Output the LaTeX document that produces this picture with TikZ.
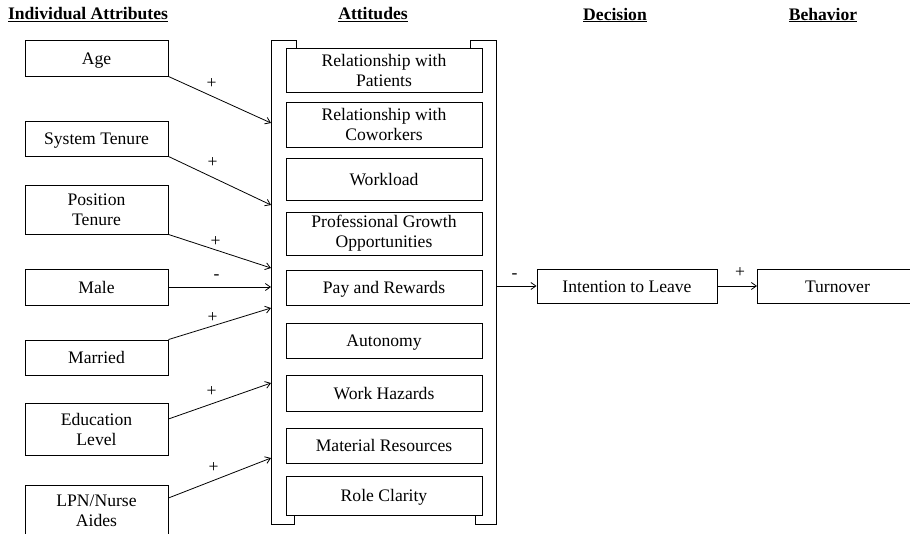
\documentclass[tikz,border=0pt]{standalone}
\usepackage{fontspec}
\setmainfont{Liberation Serif}
\usepackage{tikz}
\usetikzlibrary{arrows.meta, positioning, calc}
\newcommand{\modelfont}{\fontsize{17.6}{20}\selectfont}
\tikzset{
  attrbox/.style={
    draw, line width=0.9pt, align=center,
    font=\modelfont, fill=white, minimum width=143pt, inner sep=2pt
  },
  attbox/.style={
    draw, line width=0.9pt, align=center,
    font=\modelfont, fill=white, minimum width=196pt, inner sep=2pt
  },
  outbox/.style={
    draw, line width=0.9pt, align=center,
    font=\modelfont, fill=white, minimum height=34pt, inner sep=2pt
  },
  oneline/.style={text height=12pt, text depth=0pt},
  headlabel/.style={
    font=\modelfont\bfseries, inner sep=0pt
  },
  signlabel/.style={
    font=\modelfont, inner sep=0pt, text height=0.55em, text depth=0pt
  },
  framestyle/.style={line width=0.9pt},
  linkarrow/.style={
    -{Straight Barb[length=5pt,width=7pt]}, line width=0.8pt
  },
}

\begin{document}
\begin{tikzpicture}[x=1pt, y=-1pt]
  \useasboundingbox (0,0) rectangle (910,533);

  % Column headings
  \node[headlabel] (hAttr) at (88,15)  {\underline{Individual Attributes}};
  \node[headlabel] (hAtt)  at (373,15) {\underline{Attitudes}};
  \node[headlabel] (hDec)  at (615,15) {\underline{Decision}};
  \node[headlabel] (hBeh)  at (823,15) {\underline{Behavior}};

  % Individual attributes
  \node[attrbox, oneline, minimum height=36pt] (age)     at (96.5,58)    {Age};
  \node[attrbox, oneline, minimum height=35pt] (systen)  at (96.5,138.5) {System Tenure};
  \node[attrbox, minimum height=49pt] (posten)  at (96.5,209.5) {Position\\Tenure};
  \node[attrbox, oneline, minimum height=36pt] (male)    at (96.5,287)   {Male};
  \node[attrbox, oneline, minimum height=35pt] (married) at (96.5,357.5) {Married};
  \node[attrbox, minimum height=52pt] (edu)     at (96.5,429)   {Education\\Level};
  \node[attrbox, minimum height=52pt] (lpn)     at (96.5,511)   {LPN/Nurse\\Aides};

  % Attitudes frame
  \coordinate (fTL) at (271,40);
  \coordinate (fBR) at (496,524);
  \draw[framestyle] (fTL) -- (296,40) -- (296,48) -- (470,48) -- (470,40)
    -- (496,40) -- (fBR) -- (475,524) -- (475,515) -- (294,515)
    -- (294,524) -- (271,524) -- cycle;

  % Attitudes
  \node[attbox, minimum height=44pt] (patients)  at (384,70)    {Relationship with\\Patients};
  \node[attbox, minimum height=45pt] (coworkers) at (384,124.5) {Relationship with\\Coworkers};
  \node[attbox, oneline, minimum height=42pt] (workload)  at (384,179)   {Workload};
  \node[attbox, minimum height=43pt] (growth)    at (384,233.5) {Professional Growth\\Opportunities};
  \node[attbox, oneline, minimum height=35pt] (pay)       at (384,287.5) {Pay and Rewards};
  \node[attbox, oneline, minimum height=35pt] (autonomy)  at (384,340.5) {Autonomy};
  \node[attbox, oneline, minimum height=36pt] (hazards)   at (384,393)   {Work Hazards};
  \node[attbox, oneline, minimum height=35pt] (material)  at (384,445.5) {Material Resources};
  \node[attbox, oneline, minimum height=39pt] (clarity)   at (384,495.5) {Role Clarity};

  % Decision and behavior
  \node[outbox, oneline, minimum width=180pt] (intention) at (627,286) {Intention to Leave};
  \node[outbox, oneline, minimum width=160pt, anchor=west] (turnover) at (757,286) {Turnover};

  % Arrow ends on the frame
  \coordinate (inAge)     at (271,123);
  \coordinate (inSysten)  at (271,205);
  \coordinate (inPosten)  at (271,268);
  \coordinate (inMale)    at (271,287);
  \coordinate (inMarried) at (271,308);
  \coordinate (inEdu)     at (271,383);
  \coordinate (inLpn)     at (271,458);
  \coordinate (outAtt)    at (496,286);

  % Arrows
  \draw[linkarrow] (age.south east) -- (inAge)
    node[signlabel, pos=0.42, above=7pt] (sAge) {+};
  \draw[linkarrow] (systen.south east) -- (inSysten)
    node[signlabel, pos=0.43, above=9.5pt] (sSysten) {+};
  \draw[linkarrow] (posten.south east) -- (inPosten)
    node[signlabel, pos=0.46, above=3pt] (sPosten) {+};
  \draw[linkarrow] (male.east) -- (inMale)
    node[signlabel, pos=0.47, above=7.5pt] (sMale) {-};
  \draw[linkarrow] (married.north east) -- (inMarried)
    node[signlabel, pos=0.43, above=3pt] (sMarried) {+};
  \draw[linkarrow] ([yshift=10pt]edu.east) -- (inEdu)
    node[signlabel, pos=0.42, above=6.5pt] (sEdu) {+};
  \draw[linkarrow] ([yshift=13pt]lpn.east) -- (inLpn)
    node[signlabel, pos=0.44, above=8pt] (sLpn) {+};
  \draw[linkarrow] (outAtt) -- (intention.west)
    node[signlabel, pos=0.46, above=7.5pt] (sIntent) {-};
  \draw[linkarrow] (intention.east) -- (turnover.west)
    node[signlabel, pos=0.575, above=8.5pt] (sTurn) {+};
\end{tikzpicture}
\end{document}
